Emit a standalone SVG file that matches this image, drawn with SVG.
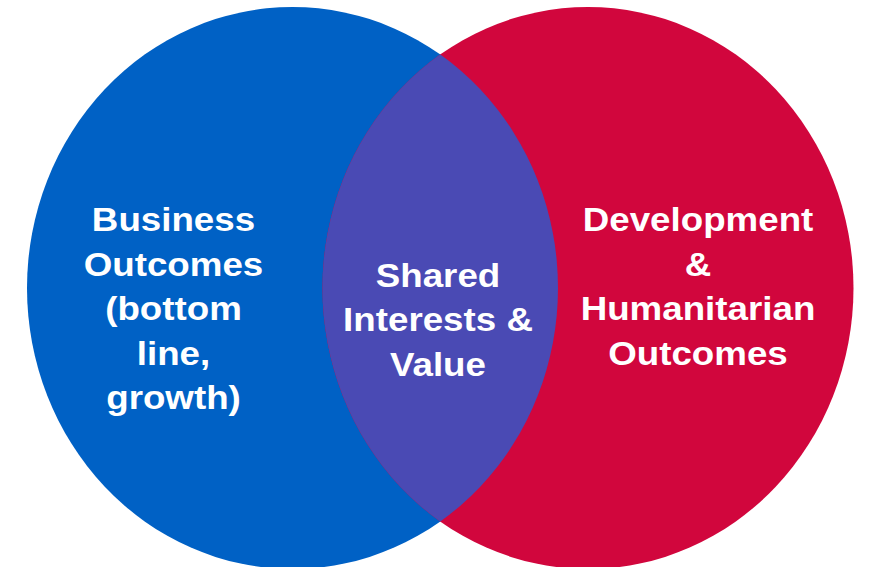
<svg xmlns="http://www.w3.org/2000/svg" width="869" height="567" viewBox="0 0 869 567">
  <defs>
    <clipPath id="left-clip">
      <ellipse cx="292.5" cy="288" rx="265.5" ry="281"/>
    </clipPath>
    <style>
      .label { font-family: "Liberation Sans", Arial, sans-serif; font-weight: bold; font-size: 32.8px; fill: #ffffff; text-anchor: middle; }
    </style>
  </defs>
  <rect width="869" height="567" fill="#ffffff"/>

  <!-- Left set: business outcomes -->
  <g id="business">
    <ellipse cx="292.5" cy="288" rx="265.5" ry="281" fill="#0061C5"/>
  </g>

  <!-- Right set: development & humanitarian outcomes -->
  <g id="development">
    <ellipse cx="588" cy="288" rx="265.5" ry="281" fill="#D1063D"/>
  </g>

  <!-- Overlap: shared interests -->
  <g id="shared">
    <ellipse cx="588" cy="288" rx="265.5" ry="281" fill="#4A4AB4" clip-path="url(#left-clip)"/>
  </g>

  <!-- Labels (slightly widened bold sans) -->
  <g id="business-label" transform="translate(173.5,0) scale(1.12,1)">
    <text class="label" x="0" y="231.5">Business</text>
    <text class="label" x="0" y="276">Outcomes</text>
    <text class="label" x="0" y="320.5">(bottom</text>
    <text class="label" x="0" y="365">line,</text>
    <text class="label" x="0" y="409.5">growth)</text>
  </g>

  <g id="shared-label" transform="translate(438,0) scale(1.12,1)">
    <text class="label" x="0" y="287">Shared</text>
    <text class="label" x="0" y="331.5">Interests &amp;</text>
    <text class="label" x="0" y="376">Value</text>
  </g>

  <g id="development-label" transform="translate(698,0) scale(1.12,1)">
    <text class="label" x="0" y="231.5">Development</text>
    <text class="label" x="0" y="276">&amp;</text>
    <text class="label" x="0" y="320.5">Humanitarian</text>
    <text class="label" x="0" y="365">Outcomes</text>
  </g>
</svg>
